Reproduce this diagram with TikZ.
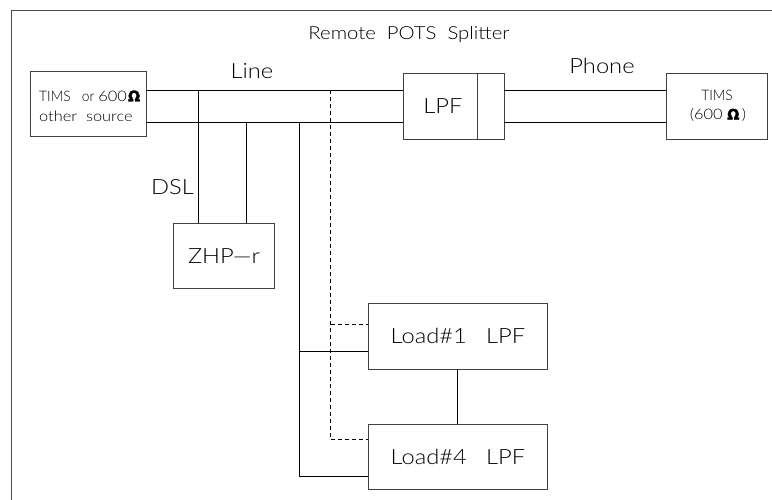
\documentclass[tikz,border=0pt]{standalone}
\usepackage{fontspec}
\setmainfont{Lato Light}[FakeStretch=1.13]
\newfontfamily\omfont{DejaVu Sans}[FakeBold=2]
\newcommand{\ohm}{{\omfont\bfseries Ω}}
\begin{document}
\begin{tikzpicture}[x=1pt,y=-1pt,
  box/.style={draw=black!75,line width=.7pt,rectangle,inner sep=0pt,align=center},
  wire/.style={draw=black,line width=.6pt},
  dash wire/.style={wire,dash pattern=on 4pt off 3pt},
  big/.style={font=\fontsize{21}{24}\selectfont},
  mid/.style={font=\fontsize{18}{21}\selectfont},
  small/.style={font=\fontsize{14.5}{17}\selectfont},
  lab/.style={inner sep=0pt,anchor=center}]
\useasboundingbox (0,0) rectangle (772,500);
\fill[white] (0,0) rectangle (772,500);
\draw[black!70,line width=.7pt] (772,10.5) -- (11.5,10.5) -- (11.5,500);
\node[box,minimum width=116pt,minimum height=65pt] (src) at (88,104) {};
\node[lab,small,anchor=west] (srcA) at (39,96) {\addfontfeature{FakeStretch=.95}TIMS\ \ \ or\hspace{4pt}{\addfontfeature{FakeStretch=1.13}600}\hspace{1pt}\ohm};
\node[lab,small,anchor=west] (srcB) at (39,116) {other\ \ source};
\node[box,minimum width=101pt,minimum height=65.5pt] (lpf) at (453.5,106.25) {};
\node[lab,big] (lpft) at (443,106) {LPF};
\node[box,minimum width=101pt,minimum height=65.5pt] (tims) at (716.5,106.25) {};
\node[lab,small] (timsA) at (717,95) {\addfontfeature{FakeStretch=.95}TIMS};
\node[lab,small] (timsB) at (718,115) {(600 \ohm\,)};
\node[box,big,minimum width=101pt,minimum height=65.5pt] (zhp) at (224,256) {ZHP---r};
\node[box,minimum width=179.5pt,minimum height=65.5pt] (l1) at (457.75,336.25) {};
\node[lab,big] (l1t) at (458,336) {Load\#1\ \ \ LPF};
\node[box,minimum width=179.5pt,minimum height=65.5pt] (l4) at (457.75,457) {};
\node[lab,big] (l4t) at (458,457) {Load\#4\ \ \ LPF};
\node[lab,mid] (title) at (409,35) {Remote\ \ POTS\ \ Splitter};
\node[lab,big] (line) at (252,71) {Line};
\node[lab,big] (phone) at (602,66) {Phone};
\node[lab,big] (dsl) at (172.5,187) {DSL};
\coordinate (a1) at (146,90); \coordinate (a2) at (146,122);
\coordinate (b1) at (403,90); \coordinate (b2) at (403,122);
\coordinate (c1) at (504,90); \coordinate (c2) at (504,122);
\coordinate (d1) at (666,90); \coordinate (d2) at (666,122);
\draw[box] (477,73.5) -- (477,139);
\draw[wire] (a1) -- (b1);
\draw[wire] (a2) -- (b2);
\draw[wire] (c1) -- (d1);
\draw[wire] (c2) -- (d2);
\draw[wire] (198.5,90) -- (198.5,223.25);
\draw[wire] (246.5,122) -- (246.5,223.25);
\draw[wire] (299,122) -- (299,476.7) -- (368,476.7);
\draw[wire] (299,351) -- (368,351);
\draw[wire] (l1.south) -- (l4.north);
\draw[dash wire] (330.5,90) -- (330.5,439.6) -- (368,439.6);
\draw[dash wire] (330.5,324.3) -- (368,324.3);
\end{tikzpicture}
\end{document}
